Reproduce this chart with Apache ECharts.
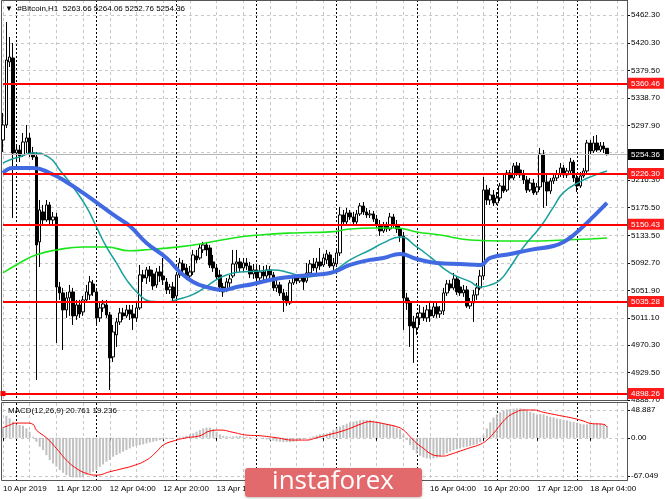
<!DOCTYPE html>
<html><head><meta charset="utf-8">
<script src="https://cdn.jsdelivr.net/npm/echarts@6/dist/echarts.min.js"></script>
<style>html,body{margin:0;padding:0;background:#fff}#c{width:665px;height:499px}</style>
</head><body><div id="c"></div>
<script>
const symbolName = '#Bitcoin,H1';
// [open, high, low, close] per H1 bar, first bar 10 Apr 2019 20:00
const bars = [
[5276.1,5316.3,5258.2,5298.4],[5298.4,5451.8,5294.0,5395.2],[5392.3,5429.5,5384.8,5399.7],[5398.2,5420.6,5159.9,5256.7],
[5256.7,5267.2,5246.3,5261.2],[5261.2,5268.6,5243.3,5252.3],[5253.7,5286.5,5250.8,5273.1],[5273.1,5298.4,5256.7,5279.1],
[5279.1,5286.5,5250.8,5256.7],[5256.7,5265.7,5246.3,5250.8],[5250.8,5258.2,4918.6,5119.7],[5124.2,5186.7,5086.9,5171.8],
[5168.9,5179.3,5148.0,5156.9],[5156.9,5186.7,5154.0,5179.3],[5179.3,5183.7,5149.5,5156.9],[5156.9,5168.9,5149.5,5161.4],
[5161.4,5167.4,4973.7,5057.1],[5057.1,5064.6,5037.8,5048.2],[5048.2,5055.7,4963.3,5022.9],[5022.9,5049.7,5011.0,5040.8],
[5040.8,5060.1,5014.0,5049.7],[5049.7,5055.7,5000.5,5014.0],[5014.0,5037.8,5008.0,5030.3],[5030.3,5037.8,5011.0,5016.9],
[5019.9,5043.7,5014.0,5037.8],[5037.8,5060.1,5033.3,5049.7],[5045.2,5073.5,5037.8,5064.6],[5061.6,5067.6,5043.7,5049.7],
[5049.7,5055.7,5000.5,5011.0],[5011.0,5033.3,5005.0,5025.9],[5025.9,5037.8,5019.9,5031.8],[5030.3,5037.8,5011.0,5015.4],
[5015.4,5019.9,4903.7,4951.4],[4952.9,5000.5,4945.4,4990.1],[4985.7,5011.0,4967.8,5005.0],[5005.0,5025.9,5000.5,5018.4],
[5018.4,5025.9,5008.0,5014.0],[5014.0,5030.3,5011.0,5022.9],[5022.9,5030.3,5008.0,5016.9],[5016.9,5030.3,4993.1,5011.0],
[5011.0,5033.3,5005.0,5025.9],[5025.9,5089.9,5022.9,5075.0],[5075.0,5082.5,5064.6,5070.5],[5070.5,5086.9,5061.6,5082.5],
[5082.5,5088.4,5064.6,5073.5],[5076.5,5082.5,5052.7,5058.6],[5060.1,5085.4,5055.7,5079.5],[5079.5,5088.4,5064.6,5073.5],
[5073.5,5100.3,5060.1,5067.6],[5064.6,5070.5,5046.7,5052.7],[5052.7,5061.6,5046.7,5057.1],[5057.1,5064.6,5033.3,5040.8],
[5043.7,5079.5,5037.8,5075.0],[5075.0,5100.3,5070.5,5092.9],[5091.4,5097.4,5076.5,5082.5],[5085.4,5091.4,5067.6,5073.5],
[5073.5,5088.4,5067.6,5079.5],[5079.5,5112.3,5075.0,5104.8],[5103.3,5112.3,5092.9,5097.4],[5100.3,5121.2,5097.4,5115.2],
[5112.3,5124.2,5107.8,5119.7],[5119.7,5124.2,5103.3,5112.3],[5115.2,5119.7,5085.4,5089.9],[5094.4,5104.8,5079.5,5085.4],
[5085.4,5091.4,5067.6,5072.0],[5075.0,5082.5,5049.7,5057.1],[5057.1,5063.1,5042.3,5049.7],[5052.7,5070.5,5049.7,5064.6],
[5063.1,5075.0,5055.7,5069.1],[5073.5,5112.3,5070.5,5091.4],[5091.4,5112.3,5079.5,5094.4],[5094.4,5100.3,5079.5,5085.4],
[5085.4,5100.3,5081.0,5092.9],[5092.9,5100.3,5082.5,5088.4],[5088.4,5094.4,5070.5,5076.5],[5076.5,5091.4,5069.1,5082.5],
[5082.5,5088.4,5066.1,5070.5],[5070.5,5089.9,5064.6,5079.5],[5079.5,5088.4,5064.6,5073.5],[5073.5,5089.9,5067.6,5082.5],
[5082.5,5088.4,5064.6,5075.0],[5075.0,5079.5,5051.2,5055.7],[5055.7,5067.6,5049.7,5060.1],[5060.1,5064.6,5043.7,5048.2],
[5048.2,5054.2,5019.9,5037.8],[5043.7,5049.7,5028.8,5033.3],[5033.3,5067.6,5030.3,5063.1],[5063.1,5075.0,5060.1,5070.5],
[5070.5,5075.0,5061.6,5066.1],[5066.1,5075.0,5063.1,5070.5],[5070.5,5075.0,5052.7,5064.6],[5066.1,5092.9,5063.1,5078.0],
[5078.0,5097.4,5075.0,5091.4],[5091.4,5100.3,5081.0,5085.4],[5085.4,5100.3,5078.0,5094.4],[5094.4,5115.2,5082.5,5088.4],
[5089.9,5106.3,5086.9,5100.3],[5097.4,5112.3,5091.4,5106.3],[5104.8,5109.3,5085.4,5088.4],[5088.4,5100.3,5082.5,5092.9],
[5091.4,5112.3,5086.9,5107.8],[5107.8,5176.3,5103.3,5164.4],[5164.4,5171.8,5149.5,5154.0],[5154.0,5174.8,5149.5,5167.4],
[5167.4,5171.8,5156.9,5161.4],[5161.4,5168.9,5149.5,5154.0],[5154.0,5171.8,5151.0,5165.9],[5165.9,5182.3,5162.9,5177.8],
[5177.8,5183.7,5164.4,5168.9],[5168.9,5174.8,5159.9,5164.4],[5164.4,5171.8,5159.9,5165.9],[5165.9,5170.3,5154.0,5158.4],
[5158.4,5164.4,5145.0,5149.5],[5149.5,5156.9,5133.1,5140.5],[5140.5,5154.0,5137.6,5148.0],[5148.0,5154.0,5139.1,5143.5],
[5143.5,5167.4,5140.5,5161.4],[5161.4,5165.9,5145.0,5149.5],[5149.5,5156.9,5137.6,5143.5],[5143.5,5149.5,5124.2,5133.1],
[5133.1,5139.1,4993.1,5040.8],[5040.8,5048.2,5022.9,5033.3],[5033.3,5037.8,4967.8,4999.1],[5005.0,5014.0,4944.0,4996.1],
[4996.1,5018.4,4985.7,5011.0],[5011.0,5030.3,5000.5,5018.4],[5018.4,5027.4,5006.5,5011.0],[5011.0,5030.3,5005.0,5022.9],
[5022.9,5033.3,5005.0,5014.0],[5014.0,5034.8,5011.0,5027.4],[5027.4,5034.8,5011.0,5016.9],[5016.9,5028.8,5011.0,5021.4],
[5021.4,5055.7,5015.4,5048.2],[5048.2,5067.6,5043.7,5061.6],[5061.6,5067.6,5051.2,5055.7],[5055.7,5078.0,5052.7,5069.1],
[5069.1,5073.5,5045.2,5049.7],[5057.1,5067.6,5043.7,5048.2],[5048.2,5060.1,5042.3,5052.7],[5052.7,5058.6,5025.9,5028.8],
[5028.8,5040.8,5024.4,5034.8],[5033.3,5052.7,5005.0,5045.2],[5045.2,5063.1,5037.8,5055.7],[5055.7,5082.5,5052.7,5073.5],
[5073.5,5221.0,5067.6,5201.6],[5201.6,5209.1,5179.3,5186.7],[5186.7,5204.6,5179.3,5194.2],[5194.2,5201.6,5177.8,5182.3],
[5182.3,5198.6,5179.3,5189.7],[5189.7,5212.0,5185.2,5207.6],[5207.6,5224.0,5197.2,5200.1],[5201.6,5231.4,5198.6,5226.9],
[5226.9,5231.4,5216.5,5219.5],[5219.5,5241.8,5216.5,5237.4],[5237.4,5243.3,5222.5,5226.9],[5231.4,5241.8,5219.5,5224.0],
[5224.0,5231.4,5210.6,5216.5],[5216.5,5222.5,5197.2,5201.6],[5201.6,5219.5,5198.6,5212.0],[5212.0,5218.0,5194.2,5197.2],
[5198.6,5212.0,5194.2,5206.1],[5206.1,5264.2,5201.6,5255.2],[5255.2,5261.2,5174.8,5213.5],[5213.5,5224.0,5177.8,5200.1],
[5200.1,5219.5,5195.7,5215.0],[5215.0,5225.4,5210.6,5219.5],[5219.5,5231.4,5215.0,5225.4],[5225.4,5241.8,5221.0,5234.4],
[5234.4,5238.9,5219.5,5224.0],[5224.0,5234.4,5219.5,5229.9],[5229.9,5249.3,5224.0,5243.3],[5243.3,5246.3,5213.5,5219.5],
[5219.5,5225.4,5198.6,5207.6],[5207.6,5228.4,5204.6,5222.5],[5222.5,5234.4,5219.5,5229.9],[5229.9,5276.1,5225.4,5271.6],
[5271.6,5276.1,5253.7,5259.7],[5259.7,5282.0,5256.7,5271.6],[5271.6,5283.5,5258.2,5261.2],[5261.2,5273.1,5258.2,5267.2],
[5267.2,5273.1,5256.7,5262.7],[5263.66,5264.06,5252.76,5254.36]
];
// moving averages read at sample bars: [barIndex, price]
const maTeal = [[0,5241.8],[2,5246.3],[5,5250.8],[9,5256.7],[14,5249.3],[17,5231.4],[21,5206.1],[25,5176.3],[28,5146.5],[31,5116.7],[34,5092.9],[37,5068.0],[41,5045.0],[44,5036.0],[49,5034.8],[52,5038.0],[57,5046.0],[61,5058.0],[64,5068.0],[67,5075.0],[71,5079.5],[76,5080.5],[81,5082.5],[86,5078.0],[91,5072.0],[95,5075.0],[98,5078.0],[104,5097.4],[110,5112.2],[114,5122.7],[119,5131.6],[124,5116.7],[128,5101.8],[134,5078.0],[140,5065.0],[143,5057.1],[146,5060.1],[149,5067.6],[152,5086.9],[156,5116.7],[161,5146.5],[165,5176.3],[168,5198.0],[173,5214.0],[177,5223.0],[181,5229.9]];
const maBlue = [[0,5226.9],[3,5234.4],[9,5234.4],[14,5226.9],[19,5213.5],[24,5197.2],[29,5179.3],[34,5161.4],[38,5148.0],[43,5122.7],[49,5100.3],[53,5079.5],[57,5064.6],[61,5057.1],[66,5052.7],[70,5057.1],[75,5061.6],[80,5067.6],[86,5072.0],[92,5075.0],[98,5078.0],[104,5089.9],[110,5097.4],[114,5100.3],[119,5106.3],[124,5098.8],[130,5092.9],[137,5091.4],[143,5089.9],[146,5100.3],[152,5106.3],[158,5112.3],[165,5118.2],[168,5124.2],[171,5134.6],[175,5152.5],[181,5182.3]];
const maGreen = [[0,5078.0],[5,5092.9],[10,5105.0],[16,5112.2],[24,5116.7],[31,5116.7],[38,5111.0],[44,5113.0],[52,5116.5],[59,5121.0],[69,5130.1],[77,5134.6],[87,5137.6],[98,5139.1],[104,5143.5],[111,5145.0],[118,5145.0],[124,5139.1],[131,5134.6],[140,5127.1],[150,5125.6],[161,5125.6],[168,5127.1],[176,5128.6],[181,5130.1]];
const levels = [5360.46, 5226.30, 5150.43, 5035.28, 4898.26];
const selectedLevel = 4898.26;
const lastPrice = 5254.36;
const priceTicks = [4888.70,4929.50,4970.30,5011.10,5051.90,5092.70,5133.50,5175.50,5216.30,5257.10,5297.90,5338.70,5379.50,5420.30,5462.30];
const priceLabels = [4888.70,4929.50,4970.30,5011.10,5051.90,5092.70,5133.50,5175.50,5216.30,5297.90,5338.70,5379.50,5420.30,5462.30];
const macdMain = [19.6,38.9,34.2,28.4,23.7,22.5,21.3,16.6,10.8,2.0,
-6.8,-15.6,-21.4,-30.2,-39.0,-44.9,-50.7,-56.6,-61.3,-65.4,
-68.3,-69.5,-69.5,-69.5,-68.3,-65.4,-62.4,-59.5,-56.6,-50.7,
-46.6,-41.9,-39.0,-33.2,-30.2,-27.3,-24.4,-21.4,-18.5,-15.6,
-13.8,-12.7,-11.5,-9.7,-8.0,-6.8,-5.6,-3.9,-2.7,-2.1,
-1.5,-0.9,-0.4,0.8,2.0,3.7,6.1,7.9,10.8,13.7,
16.6,17.8,17.8,15.5,10.8,6.1,3.7,2.6,2.0,2.6,
3.2,3.2,2.6,2.0,1.4,0.8,0.2,-0.4,-1.5,-2.7,
-3.9,-5.0,-6.2,-6.8,-7.4,-7.4,-7.4,-6.8,-5.6,-3.9,
-2.1,-0.9,0.8,2.6,4.3,6.1,7.3,7.9,9.6,13.7,
16.6,19.6,22.5,24.8,27.2,28.4,29.5,30.7,31.3,31.3,
31.3,30.1,28.4,26.6,25.4,24.2,23.1,21.3,17.8,14.9,
6.1,-3.9,-12.7,-21.4,-27.3,-31.4,-34.3,-36.1,-36.1,-36.1,
-34.9,-33.2,-30.2,-27.3,-24.4,-21.4,-19.7,-18.5,-16.8,-15.6,
-14.4,-12.7,-11.5,-8.0,4.9,16.6,27.2,35.4,41.2,44.8,
47.8,49.6,50.6,51.2,51.8,51.8,50.0,47.8,45.9,43.6,
41.2,41.8,41.2,38.9,37.1,36.0,34.2,33.0,31.9,30.7,
28.9,27.8,26.0,24.8,23.7,23.7,24.8,24.8,25.4,24.8,
23.7,20.761];
const macdSignal = [[0,17.8],[2,22.5],[4,26.0],[7,26.0],[9,23.7],[10,13.7],[13,0.2],[16,-18.5],[19,-39.0],[22,-53.7],[25,-62.4],[28,-65.4],[32,-59.5],[36,-53.7],[39,-49.0],[43,-39.0],[46,-24.4],[48,-12.7],[51,-5.6],[55,0.2],[59,3.7],[62,12.0],[65,13.7],[69,9.6],[73,4.9],[77,3.7],[82,0.2],[87,-3.9],[91,-3.9],[94,0.2],[98,6.1],[101,10.8],[104,16.6],[107,23.7],[110,28.4],[112,27.2],[115,23.7],[118,19.6],[120,13.7],[122,2.0],[124,-9.7],[126,-18.5],[128,-27.3],[130,-31.4],[132,-32.0],[134,-29.1],[137,-23.2],[140,-17.3],[143,-11.5],[145,-3.9],[147,7.9],[149,22.5],[151,35.4],[153,43.0],[156,48.9],[159,48.9],[162,44.8],[166,40.1],[171,34.2],[174,29.5],[176,25.4],[180,23.7],[181,19.236]];
const macdTicks = [-67.049, 0, 48.887];
const macdTickLabels = ['-67.049', '0.00', '48.887'];
const xTickLabels = ['10 Apr 2019','11 Apr 12:00','12 Apr 04:00','12 Apr 20:00','13 Apr 12:00','14 Apr 04:00','14 Apr 20:00','15 Apr 12:00','16 Apr 04:00','16 Apr 20:00','17 Apr 12:00','18 Apr 04:00'];
const labelStep = 16, gridStep = 8, daySepOffset = 4, daySepStep = 24, nSlots = 188;

const cats = Array.from({length: nSlots}, (_, i) => String(i));
const FONT = 'Liberation Sans';
const last = bars[bars.length - 1];
const candleData = bars.map(b => [b[0], b[3], b[2], b[1]]);

function xAx(grid, pos, kind) {
  const base = {gridIndex: grid, type: 'category', data: cats, boundaryGap: false, position: pos,
    axisLine: {show: false}, axisTick: {show: false}, axisLabel: {show: false}};
  if (kind === 'grid') {
    base.splitLine = {show: true, interval: i => i % gridStep === 0, lineStyle: {color: '#c8c8c8', type: [3, 3], width: 1}};
  } else {
    base.splitLine = {show: true, interval: i => i >= daySepOffset && (i - daySepOffset) % daySepStep === 0 && i < bars.length,
      lineStyle: {color: '#000', type: [2, 2], width: 1}};
  }
  return base;
}
const xLabelAxis = xAx(1, 'bottom', 'grid');
xLabelAxis.axisLabel = {show: true, interval: i => i % labelStep === 0 && i / labelStep < xTickLabels.length,
  formatter: (v, i) => xTickLabels[i / labelStep] || '', align: 'left', color: '#000', fontSize: 8, fontFamily: FONT, margin: 5};
xLabelAxis.axisTick = {show: true, interval: i => i % labelStep === 0 && i / labelStep < xTickLabels.length, length: 3, lineStyle: {color: '#000'}};

const redLabel = {show: true, position: 'end', distance: 1, formatter: p => p.value.toFixed(2), color: '#fff',
  backgroundColor: '#ff1a1a', padding: [2, 4, 1, 3], fontSize: 8, fontFamily: FONT};

const option = {
  animation: false,
  textStyle: {fontFamily: FONT},
  grid: [
    {left: 3, right: 38, top: 0, height: 400},
    {left: 3, right: 38, top: 403, height: 77}
  ],
  xAxis: [xAx(0, 'bottom', 'grid'), xAx(0, 'top', 'sep'), xLabelAxis, xAx(1, 'top', 'sep')],
  yAxis: [
    {gridIndex: 0, type: 'value', position: 'right', min: 4888.7, max: 5484.6, scale: true,
      axisLine: {show: true, lineStyle: {color: '#000'}},
      axisTick: {show: true, customValues: priceTicks, length: 3, lineStyle: {color: '#000'}},
      axisLabel: {customValues: priceLabels, formatter: v => v.toFixed(2), color: '#000', fontSize: 8, fontFamily: FONT, margin: 4},
      splitLine: {show: true, lineStyle: {color: '#c8c8c8', type: [3, 3]}}},
    {gridIndex: 1, type: 'value', position: 'right', min: -74.0, max: 61.2,
      axisLine: {show: true, lineStyle: {color: '#000'}},
      axisTick: {show: true, customValues: macdTicks, length: 3, lineStyle: {color: '#000'}},
      axisLabel: {customValues: macdTicks, formatter: v => macdTickLabels[macdTicks.indexOf(v)] ?? String(v), color: '#000', fontSize: 8, fontFamily: FONT, margin: 4},
      splitLine: {show: true, lineStyle: {color: '#c8c8c8', type: [3, 3]}}}
  ],
  series: [
    {type: 'candlestick', xAxisIndex: 0, yAxisIndex: 0, data: candleData, barWidth: 3,
      itemStyle: {color: '#ffffff', color0: '#000000', borderColor: '#000000', borderColor0: '#000000', borderWidth: 1}},
    {type: 'line', xAxisIndex: 0, yAxisIndex: 0, data: maGreen, smooth: true, symbol: 'none', lineStyle: {color: '#19e619', width: 1.6}, z: 3},
    {type: 'line', xAxisIndex: 0, yAxisIndex: 0, data: maTeal, smooth: true, symbol: 'none', lineStyle: {color: '#17a09b', width: 1.5}, z: 3},
    {type: 'line', xAxisIndex: 0, yAxisIndex: 0, data: maBlue, smooth: true, symbol: 'none', lineStyle: {color: '#4169e1', width: 4}, z: 3},
    {type: 'line', xAxisIndex: 0, yAxisIndex: 0, data: [], z: 5, silent: true,
      markLine: {silent: true, symbol: 'none', animation: false,
        data: [
          {yAxis: lastPrice, lineStyle: {color: '#b4b4b4', width: 1, type: 'solid'},
            label: Object.assign({}, redLabel, {backgroundColor: '#000'})},
          ...levels.map(v => Object.assign({yAxis: v, lineStyle: {color: '#ff0000', width: 2, type: 'solid'}, label: redLabel},
            v === selectedLevel ? {symbol: ['emptyRect', 'emptyRect'], symbolSize: 5} : {}))
        ]}},
    {type: 'bar', xAxisIndex: 2, yAxisIndex: 1, data: macdMain, barWidth: 2, itemStyle: {color: '#c0c0c0'}},
    {type: 'line', xAxisIndex: 2, yAxisIndex: 1, data: macdSignal, smooth: true, symbol: 'none', lineStyle: {color: '#ff0000', width: 1}, z: 4}
  ],
  graphic: [
    {type: 'rect', shape: {x: 1.5, y: 0.5, width: 626, height: 400}, style: {fill: 'none', stroke: '#555', lineWidth: 1}, silent: true, z: 1},
    {type: 'rect', shape: {x: 1.5, y: 402.5, width: 626, height: 78}, style: {fill: 'none', stroke: '#555', lineWidth: 1}, silent: true, z: 1},
    {type: 'text', left: 5, top: 5, z: 20, style: {text: '\u25BC  ' + symbolName + '  ' + last.map(v => v.toFixed(2)).join(' '),
      fill: '#000', fontSize: 8, fontFamily: FONT}},
    {type: 'text', left: 8, top: 407, z: 20, style: {text: 'MACD(12,26,9) ' + macdMain[macdMain.length - 1].toFixed(3) + ' ' + macdSignal[macdSignal.length - 1][1].toFixed(3),
      fill: '#000', fontSize: 8, fontFamily: FONT}},
    {type: 'rect', zlevel: 1, z: 100, silent: true, shape: {x: 245, y: 468, width: 177, height: 29, r: 3},
      style: {fill: '#e26a6c', shadowBlur: 3, shadowColor: 'rgba(0,0,0,0.25)', shadowOffsetY: 1}},
    {type: 'text', zlevel: 1, z: 101, silent: true, x: 333, y: 482,
      style: {text: 'instaforex', fill: '#fff', fontSize: 26, fontFamily: 'Open Sans', align: 'center', verticalAlign: 'middle'}}
  ]
};
const chart = echarts.init(document.getElementById('c'), null, {renderer: 'canvas'});
chart.setOption(option);
</script></body></html>
